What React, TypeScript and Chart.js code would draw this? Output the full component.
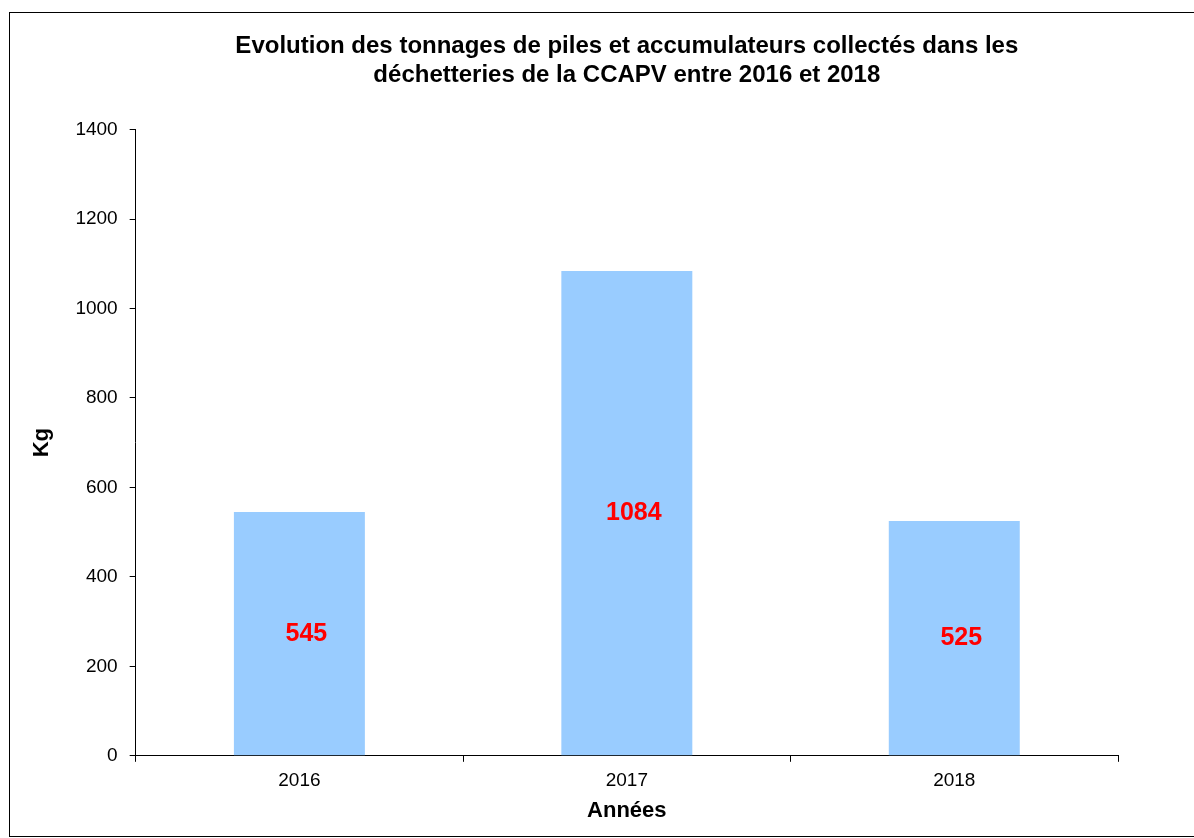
import React, { useEffect, useRef } from "react";
import { Chart, registerables } from "chart.js";

Chart.register(...registerables);

const titleLines = [
  "Evolution des tonnages de piles et accumulateurs collectés dans les",
  "déchetteries de la CCAPV entre 2016 et 2018",
];
const years = ["2016", "2017", "2018"];
const tonnages = [545, 1084, 525];
const yTicks = [0, 200, 400, 600, 800, 1000, 1200, 1400];

const FONT = "'Liberation Sans', Arial, Helvetica, sans-serif";

const valueLabels = {
  id: "valueLabels",
  afterDatasetsDraw(chart: any) {
    const ctx = chart.ctx;
    const meta = chart.getDatasetMeta(0);
    const data = chart.data.datasets[0].data as number[];
    ctx.save();
    ctx.font = `bold 25px ${FONT}`;
    ctx.fillStyle = "#FF0000";
    ctx.textAlign = "center";
    ctx.textBaseline = "middle";
    meta.data.forEach((bar: any, i: number) => {
      const p = bar.getProps(["x", "y", "base"], true);
      ctx.fillText(String(data[i]), p.x + 7, (p.y + p.base) / 2);
    });
    ctx.restore();
  },
};

export default function App() {
  const ref = useRef<HTMLCanvasElement | null>(null);
  useEffect(() => {
    if (!ref.current) return;
    const chart = new Chart(ref.current, {
      type: "bar",
      data: {
        labels: years,
        datasets: [
          {
            data: tonnages,
            backgroundColor: "#99CCFF",
            borderWidth: 0,
            barPercentage: 0.4,
            categoryPercentage: 1,
          },
        ],
      },
      options: {
        animation: false,
        responsive: true,
        maintainAspectRatio: false,
        layout: { padding: { left: 19, right: 76, top: 0, bottom: 12 } },
        plugins: {
          legend: { display: false },
          tooltip: { enabled: false },
          title: {
            display: true,
            text: titleLines,
            color: "#000",
            fullSize: false,
            font: { family: FONT, size: 24, weight: "bold", lineHeight: 1.2 },
            padding: { top: 19, bottom: 40 },
          },
        },
        scales: {
          x: {
            type: "category",
            offset: true,
            grid: {
              display: true,
              offset: true,
              drawOnChartArea: false,
              drawTicks: true,
              tickLength: 6,
              color: "#000",
            },
            border: { display: true, color: "#000", width: 1 },
            ticks: { color: "#000", font: { family: FONT, size: 19 }, padding: 8 },
            title: {
              display: true,
              text: "Années",
              color: "#000",
              font: { family: FONT, size: 22, weight: "bold" },
              padding: { top: -3, bottom: 0 },
            },
          },
          y: {
            min: 0,
            max: 1400,
            afterBuildTicks: (scale: any) => {
              scale.ticks = yTicks.map((v) => ({ value: v }));
            },
            grid: {
              display: true,
              drawOnChartArea: false,
              drawTicks: true,
              tickLength: 6,
              color: "#000",
            },
            border: { display: true, color: "#000", width: 1 },
            ticks: {
              color: "#000",
              font: { family: FONT, size: 19 },
              padding: 12,
              callback: (v: any) => String(v),
            },
            title: {
              display: true,
              text: "Kg",
              color: "#000",
              font: { family: FONT, size: 22, weight: "bold" },
              padding: { top: 0, bottom: 8 },
            },
          },
        },
      },
      plugins: [valueLabels],
    });
    return () => chart.destroy();
  }, []);

  return (
    <div
      style={{
        position: "absolute",
        left: 9,
        top: 12,
        width: 1184,
        height: 823,
        border: "1px solid #000",
        background: "#fff",
      }}
    >
      <canvas ref={ref} />
    </div>
  );
}
